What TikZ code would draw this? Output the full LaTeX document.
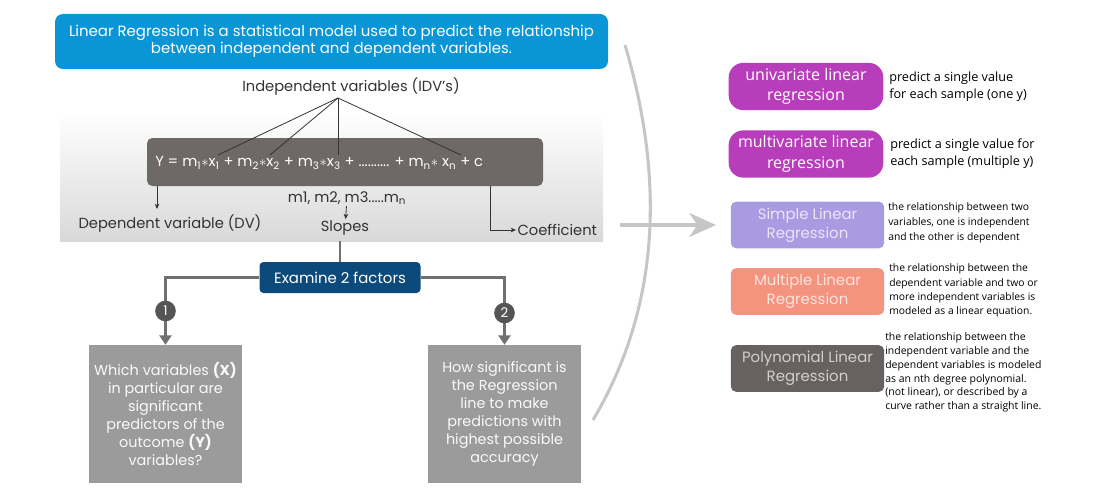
\documentclass[tikz,border=0pt]{standalone}
\usepackage{fontspec}
\setmainfont{Poppins}
\newfontfamily\segoe{Open Sans}
\usetikzlibrary{arrows.meta, positioning}

\definecolor{topblue}{HTML}{0A96D6}
\definecolor{navy}{HTML}{0C4A7B}
\definecolor{eqgray}{HTML}{6E6867}
\definecolor{linegray}{HTML}{707070}
\definecolor{boxgray}{HTML}{9B9B9B}
\definecolor{dotgray}{HTML}{555555}
\definecolor{purp}{HTML}{B83DBA}
\definecolor{lav}{HTML}{A99BE2}
\definecolor{salmon}{HTML}{F4937E}
\definecolor{polygray}{HTML}{676160}
\definecolor{curvegray}{HTML}{C6C6C6}
\definecolor{txtgray}{HTML}{333333}

\begin{document}
\begin{tikzpicture}[x=0.75pt, y=-0.75pt,
    lbl/.style={text=txtgray, font=\fontsize{11}{13}\selectfont, inner sep=1pt},
    thin arrow/.style={-{Stealth[length=4pt,width=3.5pt]}, txtgray, line width=0.6pt},
    branch/.style={linegray, line width=1.9pt, -{Triangle[length=7pt,width=9pt]}},
    question/.style={fill=boxgray, text=white!95!gray, align=center, inner sep=0pt,
        minimum width=115pt, minimum height=103.5pt, font=\fontsize{10.8}{13.5}\selectfont},
    num/.style={circle, fill=dotgray, text=white, inner sep=0pt, minimum size=15.5pt,
        font=\fontsize{10}{12}\selectfont},
    kind/.style={rounded corners=11pt, fill=purp, text=white, align=center, inner sep=0pt,
        minimum width=116pt, minimum height=35.5pt, font=\segoe\fontsize{12}{15.5}\selectfont},
    type/.style={rounded corners=4pt, align=center, inner sep=0pt,
        minimum width=115pt, minimum height=35pt, font=\fontsize{11.2}{14.2}\selectfont},
    note/.style={anchor=west, align=left, inner sep=0pt, font=\segoe\fontsize{7.75}{10.7}\selectfont}]

    \useasboundingbox (0,0) rectangle (1096,492);

    % left part
    \node[fill=topblue, rounded corners=6pt, text=white, align=center,
        minimum width=414.75pt, minimum height=41.25pt, inner sep=0pt,
        font=\fontsize{11.2}{12.9}\selectfont] (intro) at (331.5,41.5)
        {Linear Regression is a statistical model used to predict the relationship\\
         between independent and dependent variables.};
    \node[lbl] (idv) at (351,87) {Independent variables (IDV’s)};

    \node[top color=white, bottom color=black!15, minimum width=407.25pt,
        minimum height=96.75pt, inner sep=0pt] (panel) at (331.5,176.5) {};
    \node[fill=eqgray, rounded corners=4pt, minimum width=297pt, minimum height=36pt,
        inner sep=0pt] (eqbox) at (345,162) {};
    \node[anchor=west, text=white, inner sep=0pt, font=\fontsize{11}{12}\selectfont] (eq) at (155,163)
        {Y = m\textsubscript{1}$\ast$x\textsubscript{1} + m\textsubscript{2}$\ast$x\textsubscript{2}
         + m\textsubscript{3}$\ast$x\textsubscript{3} + .......... + m\textsubscript{n}$\ast$ x\textsubscript{n} + c};

    \coordinate (apex) at (338,98);
    \coordinate (xa) at (218,155);
    \coordinate (xb) at (270,155);
    \coordinate (xc) at (338,155);
    \coordinate (xn) at (461,155);
    \foreach \p in {xa,xb,xc,xn}
        \draw[txtgray, line width=0.6pt] (apex) -- (\p);

    \node[lbl] (mlist) at (347,198) {m1, m2, m3.....m\textsubscript{n}};
    \node[lbl] (slopes) at (345,228) {Slopes};
    \draw[thin arrow] (mlist) -- (slopes);

    \node[lbl] (dv) at (170,224) {Dependent variable (DV)};
    \coordinate (dvend) at (157,209);
    \draw[thin arrow] (eqbox.south -| dvend) -- (dvend);

    \node[lbl, anchor=west] (coef) at (516,230) {Coefficient};
    \coordinate (coefx) at (490,0);
    \draw[thin arrow] (eqbox.south -| coefx) |- (coef.west);

    \node[fill=navy, rounded corners=3pt, text=white, minimum width=120.75pt,
        minimum height=23.25pt, inner sep=0pt, font=\fontsize{11.2}{12}\selectfont]
        (examine) at (340,277.5) {Examine 2 factors};
    \draw[linegray, line width=1.9pt] (panel.south -| examine.north) -- (examine.north);

    \node[question] (q1) at (165.5,414) {Which variables \textbf{(X)}\\ in particular are\\
        significant\\ predictors of the\\ outcome \textbf{(Y)}\\ variables?};
    \node[question] (q2) at (504.5,414) {How significant is\\ the Regression\\ line to make\\
        predictions with\\ highest possible\\ accuracy};
    \draw[branch] (examine.west) -| (q1.north);
    \draw[branch] (examine.east) -| (q2.north);
    \node[num] at (165.5,311) {1};
    \node[num] at (504.5,313) {2};

    % separator and arrow
    \coordinate (ctop) at (625,45);
    \coordinate (cbot) at (593,420);
    \draw[curvegray, line width=2.3pt] (ctop) .. controls (662,170) and (664,300) .. (cbot);
    \coordinate (arrstart) at (620,225);
    \coordinate (arrend) at (716,225);
    \draw[curvegray, line width=2.3pt, -{Stealth[length=20pt,width=18pt,inset=6pt]}] (arrstart) -- (arrend);

    % right part
    \node[kind] (uni) at (806,86.5) {univariate linear\\ regression};
    \node[kind] (multi) at (806,154) {multivariate linear\\ regression};
    \node[note, font=\segoe\fontsize{9.5}{12.75}\selectfont] (uninote) at (889,86.5)
        {predict a single value\\ for each sample (one y)};
    \node[note, font=\segoe\fontsize{9.5}{12.75}\selectfont] (multinote) at (890,154)
        {predict a single value for\\ each sample (multiple y)};

    \node[type, fill=lav, text=lav!25!white] (simple) at (807.5,225) {Simple Linear\\ Regression};
    \node[note, font=\segoe\fontsize{7.75}{11.25}\selectfont] (simplenote) at (888,223)
        {the relationship between two\\ variables, one is independent\\ and the other is dependent};

    \node[type, fill=salmon, text=salmon!25!white] (multiple) at (807.5,291.5) {Multiple Linear\\ Regression};
    \node[note] (multiplenote) at (889,290.5)
        {the relationship between the\\ dependent variable and two or\\ more independent variables is\\
         modeled as a linear equation.};

    \node[type, fill=polygray, text=polygray!30!white] (poly) at (807.5,368.5) {Polynomial Linear\\ Regression};
    \node[note, font=\segoe\fontsize{7.85}{10.35}\selectfont] (polynote) at (885,372.5)
        {the relationship between the\\ independent variable and the\\ dependent variables is modeled\\
         as an nth degree polynomial.\\ (not linear), or described by a\\ curve rather than a straight line.};
\end{tikzpicture}
\end{document}
